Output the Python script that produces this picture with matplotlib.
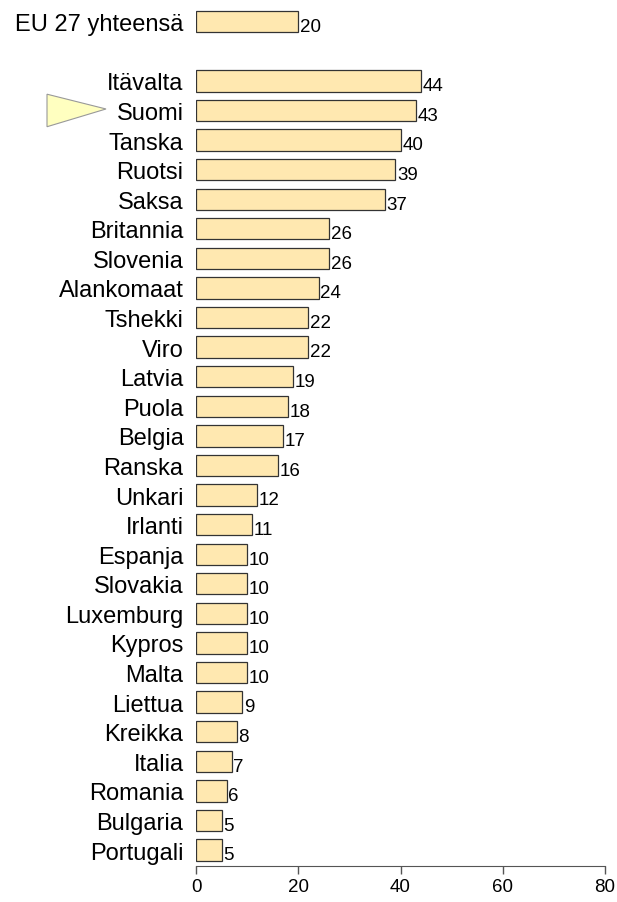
import matplotlib.pyplot as plt
from matplotlib.patches import Polygon
from matplotlib.transforms import blended_transform_factory

plt.rcParams['font.family'] = ['Liberation Sans', 'DejaVu Sans']

# EU average first, then one empty slot, then the member states
countries = ["EU 27 yhteensä", "", "Itävalta", "Suomi", "Tanska", "Ruotsi", "Saksa",
             "Britannia", "Slovenia", "Alankomaat", "Tshekki", "Viro", "Latvia",
             "Puola", "Belgia", "Ranska", "Unkari", "Irlanti", "Espanja", "Slovakia",
             "Luxemburg", "Kypros", "Malta", "Liettua", "Kreikka", "Italia",
             "Romania", "Bulgaria", "Portugali"]
values = [20, None, 44, 43, 40, 39, 37, 26, 26, 24, 22, 22, 19, 18, 17, 16, 12,
          11, 10, 10, 10, 10, 10, 9, 8, 7, 6, 5, 5]
xticks = [0, 20, 40, 60, 80]
highlight = "Suomi"

fig = plt.figure(figsize=(6.17, 9.03), dpi=100)
ax = fig.add_axes([196 / 617, 1 - 867 / 903, 409 / 617, 865 / 903])

pos = [i for i, v in enumerate(values) if v is not None]
vals = [v for v in values if v is not None]
ax.barh(pos, vals, height=0.72, color="#FFE8B0", edgecolor="#333333", linewidth=0.9)

for p, v in zip(pos, vals):
    ax.annotate(str(v), (v, p), xytext=(1.2, -3.5), textcoords="offset points",
                ha="left", va="center", fontsize=13.5)

ax.set_yticks(range(len(countries)))
ax.set_yticklabels(countries, fontsize=17)
ax.tick_params(axis="y", length=0, pad=9)
ax.set_xticks(xticks)
ax.tick_params(axis="x", length=6, width=1, color="#555555", labelsize=13.5, pad=3)

ax.set_xlim(0, 80)
ax.set_ylim(28.54, -0.7)
for s in ["top", "right", "left"]:
    ax.spines[s].set_visible(False)
ax.spines["bottom"].set_color("#555555")

# pointer triangle next to Finland
yi = countries.index(highlight)
tr = blended_transform_factory(fig.transFigure, ax.transData)
tri = Polygon([(47 / 617, yi - 0.55), (47 / 617, yi + 0.55), (106 / 617, yi - 0.05)],
              closed=True, facecolor="#FFFFC0", edgecolor="#999999", linewidth=0.8,
              transform=tr, clip_on=False)
fig.add_artist(tri)

plt.savefig("out.png", dpi=100)
